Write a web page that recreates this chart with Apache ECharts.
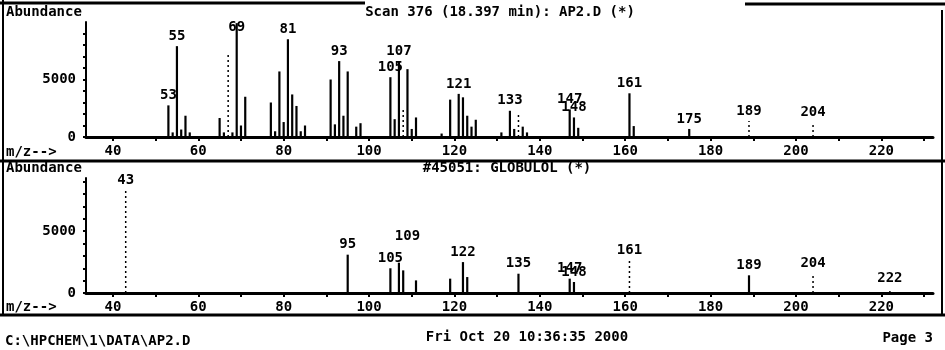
<!DOCTYPE html>
<html>
<head>
<meta charset="utf-8">
<script src="https://cdn.jsdelivr.net/npm/echarts@6/dist/echarts.min.js"></script>
<style>
html, body { margin: 0; padding: 0; background: #fff; }
#chart { width: 945px; height: 350px; }
</style>
</head>
<body>
<div id="chart"></div>
<script>
// scan 376 (sample)
var topMz = [53, 54, 55, 56, 57, 58, 65, 66, 68, 69, 70, 71, 77, 78, 79, 80, 81, 82, 83, 84, 85,
  91, 92, 93, 94, 95, 97, 98, 105, 106, 107, 109, 110, 111, 117, 119, 121, 122, 123, 124, 125,
  131, 133, 134, 136, 137, 147, 148, 149, 161, 162, 175];
var topAbund = [2750, 400, 7900, 650, 1850, 400, 1650, 400, 400, 9900, 1000, 3500, 3000, 500, 5700, 1300, 8500, 3700, 2700, 500, 1000,
  5000, 1100, 6600, 1850, 5700, 900, 1200, 5200, 1550, 6600, 5900, 700, 1700, 300, 3250, 3750, 3450, 1850, 900, 1500,
  400, 2280, 700, 900, 400, 2400, 1700, 800, 3800, 950, 700];
// thin lines that came out dotted in the scan
var topFaintMz = [67, 108, 135, 189, 204];
var topFaintAbund = [7200, 2400, 2050, 1400, 1300];
// [m/z, abundance where the printed label sits]
var topLabels = [[53, 2750], [55, 7900], [69, 8700], [81, 8500], [93, 6600], [105, 5200], [107, 6600],
  [121, 3750], [133, 2280], [147, 2400], [148, 1700], [161, 3800], [175, 700], [189, 1400], [204, 1300]];

// library hit #45051
var botMz = [95, 105, 107, 108, 111, 119, 122, 123, 135, 147, 148, 189];
var botAbund = [3100, 2000, 2450, 1830, 1020, 1160, 2500, 1290, 1560, 1160, 890, 1430];
var botFaintMz = [43, 161, 204, 222];
var botFaintAbund = [8300, 2630, 1560, 350];
var botLabels = [[43, 8300], [95, 3100], [105, 2000], [109, 3760], [122, 2500], [135, 1560],
  [147, 1160], [148, 890], [161, 2630], [189, 1430], [204, 1560], [222, 350]];

var xLabels = [40, 60, 80, 100, 120, 140, 160, 180, 200, 220];
var xTicks = [40, 50, 60, 70, 80, 90, 100, 110, 120, 130, 140, 150, 160, 170, 180, 190, 200, 210, 220, 230];
var yLabels = [0, 5000];
var yTicks = [0, 1000, 2000, 3000, 4000, 5000, 6000, 7000, 8000, 9000];

var mzMin = 33.7, mzMax = 232.1;
var font = '"DejaVu Sans Mono", monospace';

function pairs(a, b) {
  return a.map(function (v, i) { return [v, b[i]]; });
}

function plain(v) {
  return String(v);
}

function makeX(idx) {
  return {
    type: 'value', gridIndex: idx, min: mzMin, max: mzMax,
    axisLine: { show: true, onZero: false, lineStyle: { color: '#000', width: 3 } },
    axisTick: { show: true, customValues: xTicks, length: 4, lineStyle: { color: '#000', width: 2 } },
    axisLabel: { customValues: xLabels, formatter: plain, color: '#000', fontFamily: font, fontWeight: 'bold', fontSize: 14, margin: 7 },
    splitLine: { show: false }
  };
}

function makeY(idx, max) {
  return {
    type: 'value', gridIndex: idx, min: 0, max: max,
    axisLine: { show: true, lineStyle: { color: '#000', width: 2 } },
    axisTick: { show: true, customValues: yTicks, length: 3, lineStyle: { color: '#000', width: 2 } },
    axisLabel: { customValues: yLabels, formatter: plain, color: '#000', fontFamily: font, fontWeight: 'bold', fontSize: 14, margin: 10 },
    splitLine: { show: false }
  };
}

function sticks(idx, data, faint) {
  return {
    type: 'custom', xAxisIndex: idx, yAxisIndex: idx, silent: true,
    data: data,
    encode: { x: 0, y: 1 },
    renderItem: function (params, api) {
      var tip = api.coord([api.value(0), api.value(1)]);
      var base = api.coord([api.value(0), 0]);
      return {
        type: 'line',
        shape: { x1: tip[0], y1: base[1], x2: tip[0], y2: tip[1] },
        style: { stroke: '#000', lineWidth: faint ? 1.5 : 2.2, lineDash: faint ? [2, 3] : null }
      };
    }
  };
}

function peakLabels(idx, data) {
  return {
    type: 'scatter', xAxisIndex: idx, yAxisIndex: idx, silent: true,
    data: data, symbolSize: 0,
    itemStyle: { color: '#000', opacity: 1 },
    label: {
      show: true, position: 'top', distance: 3, color: '#000', opacity: 1,
      fontFamily: font, fontWeight: 'bold', fontSize: 14,
      formatter: function (p) { return p.value[0]; }
    }
  };
}

function txt(x, y, s, align) {
  return {
    type: 'text', x: x, y: y,
    style: { text: s, fill: '#000', font: 'bold 14px ' + font, textAlign: align || 'left', textVerticalAlign: 'middle' }
  };
}

function hline(x1, x2, y, w) {
  return { type: 'line', shape: { x1: x1, y1: y, x2: x2, y2: y }, style: { stroke: '#000', lineWidth: w } };
}

function vline(x, y1, y2, w) {
  return { type: 'line', shape: { x1: x, y1: y1, x2: x, y2: y2 }, style: { stroke: '#000', lineWidth: w } };
}

var chart = echarts.init(document.getElementById('chart'));
chart.setOption({
  animation: false,
  backgroundColor: '#fff',
  grid: [
    { left: 86, right: 12, top: 22, height: 115 },
    { left: 86, right: 12, top: 178, height: 115 }
  ],
  xAxis: [makeX(0), makeX(1)],
  yAxis: [makeY(0, 10000), makeY(1, 9300)],
  series: [
    sticks(0, pairs(topMz, topAbund), false),
    sticks(0, pairs(topFaintMz, topFaintAbund), true),
    peakLabels(0, topLabels),
    sticks(1, pairs(botMz, botAbund), false),
    sticks(1, pairs(botFaintMz, botFaintAbund), true),
    peakLabels(1, botLabels)
  ],
  graphic: [
    hline(0, 365, 3, 3),
    hline(745, 945, 4, 3),
    vline(3, 0, 316, 2),
    vline(942, 10, 316, 2),
    hline(0, 945, 161, 3),
    hline(0, 945, 315, 3),
    txt(6, 12, 'Abundance'),
    txt(500, 12, 'Scan 376 (18.397 min): AP2.D (*)', 'center'),
    txt(6, 152, 'm/z-->'),
    txt(6, 168, 'Abundance'),
    txt(507, 168, '#45051: GLOBULOL (*)', 'center'),
    txt(6, 307, 'm/z-->'),
    txt(5, 341, 'C:\\HPCHEM\\1\\DATA\\AP2.D'),
    txt(527, 337, 'Fri Oct 20 10:36:35 2000', 'center'),
    txt(933, 338, 'Page 3', 'right')
  ]
});
</script>
</body>
</html>
